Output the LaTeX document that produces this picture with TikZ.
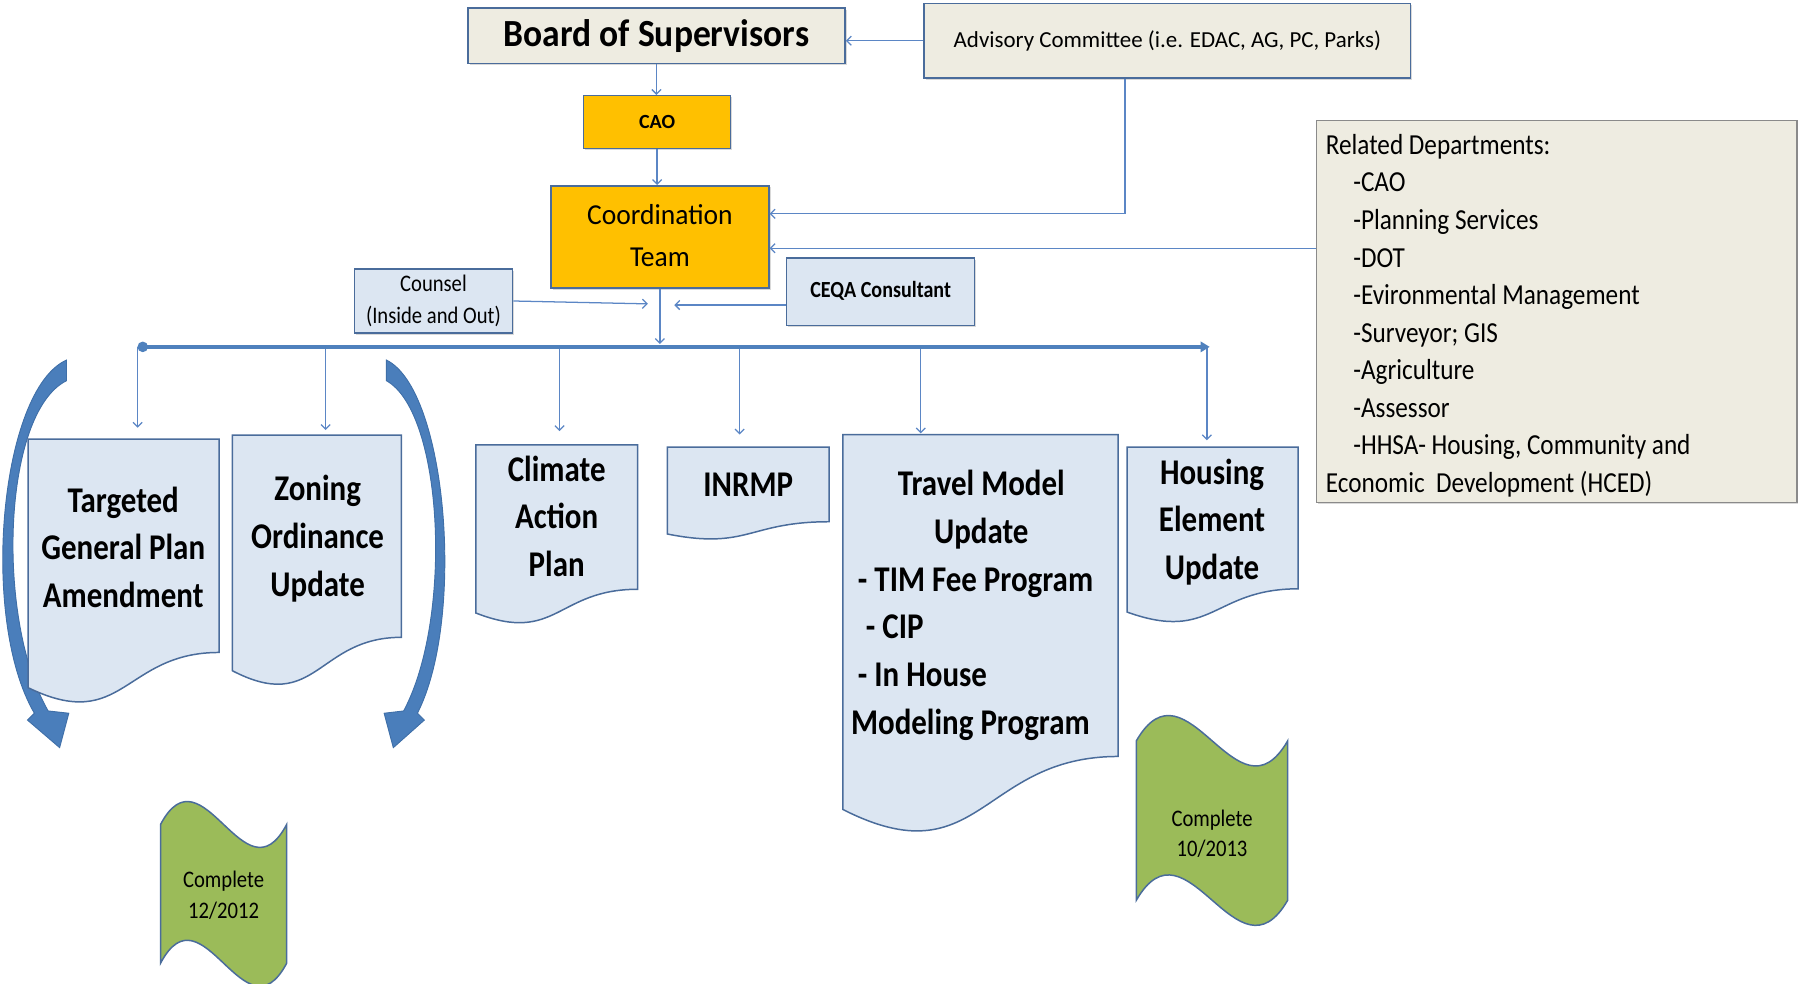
\documentclass[tikz,border=0pt]{standalone}
\usepackage{fontspec}
\setmainfont{Carlito}
\usepackage{graphicx}
\usetikzlibrary{arrows.meta,shadows}
\definecolor{bordr}{HTML}{4A6C9B}
\definecolor{connc}{HTML}{5B86C5}
\definecolor{barc}{HTML}{4F81BD}
\definecolor{beige}{HTML}{EEECE1}
\definecolor{lblue}{HTML}{DCE6F2}
\definecolor{gold}{HTML}{FFC000}
\definecolor{greenc}{HTML}{9BBB59}
\definecolor{arrf}{HTML}{4A7EBB}
\definecolor{arre}{HTML}{3F6FA8}
\definecolor{grayb}{HTML}{8A8A8A}
\newcommand\vt[3]{\scalebox{1}[#1]{\begin{tabular}{@{}#2@{}}#3\end{tabular}}}
\begin{document}
\begin{tikzpicture}[x=1pt,y=-1pt,
  box/.style={draw=bordr, line width=1.3pt, inner sep=0pt,
    drop shadow={shadow xshift=1.5pt, shadow yshift=-1.5pt, opacity=0.3}},
  conn/.style={draw=connc, line width=1.1pt, -{Straight Barb[length=4pt,width=8pt]}},
  bar/.style={draw=barc, line width=3.2pt, {Circle[length=9pt]}-{Triangle[length=8pt,width=9pt]}},
  doc/.style={fill=lblue, draw=bordr, line width=1.3pt},
  wave/.style={fill=greenc, draw=bordr, line width=1.3pt},
  curv/.style={fill=arrf, draw=arre, line width=0.8pt},
  doctext/.style={inner sep=0pt, font=\bfseries\fontsize{27}{35.5}\selectfont},
  small/.style={inner sep=0pt, font=\fontsize{18}{24}\selectfont}]
\useasboundingbox (0,0) rectangle (1568,858);

% top boxes
\node[box, fill=beige, minimum width=329pt, minimum height=48.5pt,
  font=\bfseries\fontsize{31}{37}\selectfont] (board) at (572.5,31.2) {\scalebox{1}[1.08]{Board of Supervisors}};
\node[box, fill=beige, minimum width=424pt, minimum height=65pt,
  font=\fontsize{20}{24}\selectfont] (advisory) at (1018,35.5) {Advisory Committee (i.e. EDAC, AG, PC, Parks)};
\node[box, fill=gold, minimum width=128pt, minimum height=46pt,
  font=\bfseries\fontsize{17.5}{21}\selectfont] (cao) at (573,106.5) {CAO};
\node[box, fill=gold, minimum width=190pt, minimum height=89pt,
  font=\fontsize{24}{35}\selectfont] (coord) at (575.5,206.5) {\vt{1.05}{c}{Coordination\\Team}};
\node[box, fill=lblue, minimum width=138pt, minimum height=54pt,
  font=\fontsize{18}{24.3}\selectfont] (counsel) at (378,262.5) {\vt{1.15}{c}{Counsel\\(Inside and Out)}};
\node[box, fill=lblue, minimum width=164pt, minimum height=59pt,
  font=\bfseries\fontsize{17.5}{21}\selectfont] (ceqa) at (768,254.5) {\vt{1.15}{c}{CEQA Consultant}};
\node[box, draw=grayb, fill=beige, minimum width=419pt, minimum height=333pt] (related) at (1357.5,271.5) {};
\node[inner sep=0pt, anchor=west, font=\fontsize{22}{28.5}\selectfont] (reltext) at (1156,275.5)
  {\vt{1.15}{l}{Related Departments:\\
  \hspace*{24pt}-CAO\\
  \hspace*{24pt}-Planning Services\\
  \hspace*{24pt}-DOT\\
  \hspace*{24pt}-Evironmental Management\\
  \hspace*{24pt}-Surveyor; GIS\\
  \hspace*{24pt}-Agriculture\\
  \hspace*{24pt}-Assessor\\
  \hspace*{24pt}-HHSA- Housing, Community and\\
  Economic~ Development (HCED)}};

% curved arrows
\path[curv] (58,314) .. controls (0,340) and (-18,540) .. (30,622) -- (24,628) -- (52,652) -- (60,622)
  -- (42,620) .. controls (-4,540) and (2,360) .. (58,332) -- cycle;
\path[curv] (337,314) .. controls (390,340) and (406,540) .. (364,622) -- (370,628) -- (343,652) -- (335,622)
  -- (352,620) .. controls (395,540) and (387,360) .. (337,332) -- cycle;

% document shapes
\path[doc] (24.5,383) -- (191,383) -- (191,569) .. controls (107.75,569) and (107.75,640.1) .. (24.5,599.7) -- cycle;
\path[doc] (202.6,379.4) -- (350,379.4) -- (350,555.8) .. controls (276.3,555.8) and (276.3,623.2) .. (202.6,584.9) -- cycle;
\path[doc] (415,388) -- (556,388) -- (556,513.9) .. controls (485.5,513.9) and (485.5,562) .. (415,534.6) -- cycle;
\path[doc] (582,390) -- (723,390) -- (723,455) .. controls (652.5,455) and (652.5,479.7) .. (582,465.7) -- cycle;
\path[doc] (735,379) -- (975,379) -- (975,659.7) .. controls (855,659.7) and (855,766.8) .. (735,705.9) -- cycle;
\path[doc] (983,390) -- (1132,390) -- (1132,513.5) .. controls (1057.5,513.5) and (1057.5,560.6) .. (983,533.8) -- cycle;

\node[doctext] (tgpa) at (107.5,480) {\vt{1.17}{c}{Targeted\\General Plan\\Amendment}};
\node[doctext] (zoning) at (277,470) {\vt{1.17}{c}{Zoning\\Ordinance\\Update}};
\node[doctext] (climate) at (485.5,453) {\vt{1.17}{c}{Climate\\Action\\Plan}};
\node[doctext] (inrmp) at (652.5,425) {\vt{1.17}{c}{INRMP}};
\node[doctext, anchor=west, font=\bfseries\fontsize{27}{35.7}\selectfont] (travel) at (742,528)
  {\vt{1.17}{l}{\multicolumn{1}{c}{\hspace*{16pt}Travel Model}\\\multicolumn{1}{c}{\hspace*{16pt}Update}\\
  \hspace*{6pt}- TIM Fee Program\\\hspace*{13pt}- CIP\\\hspace*{6pt}- In House\\Modeling Program}};
\node[doctext] (housing) at (1057,455.5) {\vt{1.17}{c}{Housing\\Element\\Update}};

% complete waves
\path[wave] (140,719) .. controls (176.7,649.7) and (213.3,788.3) .. (250,719) -- (250,840)
  .. controls (213.3,909.3) and (176.7,770.7) .. (140,840) -- cycle;
\path[wave] (991,646) .. controls (1035,569.8) and (1079,722.2) .. (1123,646) -- (1123,785)
  .. controls (1079,861.2) and (1035,708.8) .. (991,785) -- cycle;
\node[small] (c2012) at (195,782) {\vt{1.15}{c}{Complete\\12/2012}};
\node[small, font=\fontsize{18}{22.6}\selectfont] (c2013) at (1057,729) {\vt{1.15}{c}{Complete\\10/2013}};

% coordinates
\coordinate (advx) at (981,186.5);
\coordinate (relin) at (1148,216.5);
\coordinate (hub) at (575.5,300);
\coordinate (cin) at (565,265);
\coordinate (qin) at (588,266);
\coordinate (barL) at (120,302.5);
\coordinate (barR) at (1055,302.5);
\coordinate (d1) at (120,373);
\coordinate (d2) at (284,375);
\coordinate (d3) at (488,376);
\coordinate (d4) at (645,379);
\coordinate (d5) at (803,378);
\coordinate (d6) at (1052.5,384);

% connectors
\draw[conn] (advisory.west) -- (advisory.west -| board.east);
\draw[conn] (board.south) -- (board.south |- cao.north);
\draw[conn] (cao.south) -- (cao.south |- coord.north);
\draw[conn] (advisory.south -| advx) -- (advx) -- (advx -| coord.east);
\draw[conn] (relin) -- (relin -| coord.east);
\draw[conn] (coord.south) -- (hub);
\draw[conn] (counsel.east) -- (cin);
\draw[conn] (qin -| ceqa.west) -- (qin);
\foreach \d in {d1,d2,d3,d4,d5,d6} { \draw[conn] (\d |- barL) -- (\d); }
\draw[bar] (barL) -- (barR);
\end{tikzpicture}
\end{document}
